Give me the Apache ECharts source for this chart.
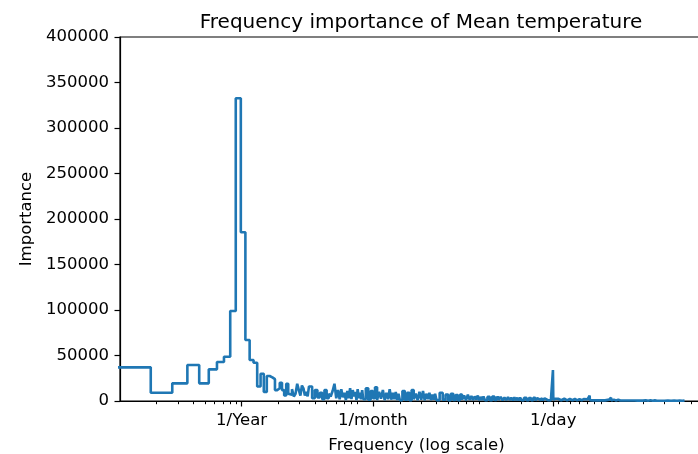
<!DOCTYPE html>
<html>
<head>
<meta charset="utf-8">
<script src="https://cdn.jsdelivr.net/npm/echarts@6/dist/echarts.min.js"></script>
<style>html,body{margin:0;padding:0;background:#fff;}#c{width:698px;height:454px;}</style>
</head>
<body>
<div id="c"></div>
<script>
// Frequency in cycles per year (log axis), importance = |FFT|
const lowFreq = [0.0895,0.179,0.269,0.358,0.448,0.537,0.627,0.716,0.806,0.895,0.985,1.074,1.164,1.253,1.343,
  1.432,1.522,1.611,1.701,1.790,1.880,1.969,2.059,2.148,2.238,2.327,2.417,2.506,2.596,2.686,2.775,2.865,2.954,3.044,3.133,3.223,3.312,3.402,3.491,3.581];
const lowVal = [37000,37000,9100,19400,39600,19400,34800,42800,48700,98900,332700,185400,67000,45000,42100,
  16000,30000,10000,27500,26000,24000,12000,14000,20000,12000,6000,19000,8000,7000,13000,5000,8000,19000,12000,6000,17000,14000,6000,10000,5000];

const midFreq = [3.8,4.0,4.2,4.4,4.6,4.8,5.0,5.2,5.4,5.6,5.8,6.0,6.2,6.4,6.6,6.8,7.0,7.2,7.4,7.6,7.8,8.0,8.2,8.4,8.6,8.8,9.0,9.2,9.4,9.6,9.8,10.0,
  10.5,11,11.5,12,12.5,13,13.5,14,14.5,15,15.5,16,16.5,17,17.5,18,18.5,19,19.5,20,
  21,22,23,24,25,26,27,28,29,30,31,32,33,34,35,36,37,38,39,40];
const midVal = [16000,3000,12000,4000,9000,2000,12000,3000,8000,5000,11000,19000,3000,12000,2000,13000,4000,9000,1000,11000,3000,14000,2000,12000,5000,10000,1000,13000,3000,9000,2000,12000,
  2000,14000,1500,11000,3000,15000,1000,10000,2500,12000,1000,9000,2000,13000,1500,9000,2000,10000,1000,8000,
  1000,11000,1500,9000,800,12000,2000,8000,1000,10000,1500,11000,800,8000,2000,9000,1000,7000,1500,8000];

const highFreq = [42.5,45,47.5,50,52.5,55,57.5,60,62.5,65,67.5,70,72.5,75,77.5,80,82.5,85,87.5,90,92.5,95,97.5,100,
  105,110,115,120,125,130,135,140,145,150,155,160,165,170,175,180,185,190,195,200,
  210,220,230,240,250,260,270,280,290,300,310,320,330,340,350,360,363,365.5,368,380,390,400];
const highVal = [1000,9000,1500,7000,800,8000,1200,6500,1000,7000,1500,6000,800,7000,1200,5500,1000,5000,1500,6000,800,4500,1200,5000,
  1000,4500,800,5000,1200,4000,1000,4500,800,3800,1000,4200,1200,3500,800,4000,1000,3500,800,3800,
  1000,3500,800,3200,1000,3400,800,3000,1000,3200,800,3000,1000,2800,800,3000,1200,34000,1500,2500,800,2500];

const topFreq = [425,450,475,500,525,550,575,600,625,650,675,700,727,731,735,750,775,800,825,850,875,900,925,950,975,1000,
  1050,1090,1097,1105,1150,1200,1250,1300,1350,1400,1450,1500,1550,1600,1650,1700,1750,1800,1850,1900,1950,2000,
  2100,2200,2300,2400,2500,2600,2700,2800,2900,3000,3200,3400,3600,3800,4000,4200,4383];
const topVal = [800,2500,700,2300,800,2200,700,2000,800,2200,700,2000,800,6000,800,2000,700,1800,800,1800,700,1700,800,1800,700,1600,
  1500,600,3800,600,1500,600,1400,500,1300,500,1300,500,1200,500,1200,500,1200,400,1100,400,1100,400,
  900,300,800,300,700,300,700,300,600,300,600,300,600,300,500,300,400];

const majorTicks = [1, 12, 365.2524];
const majorLabels = ['1/Year', '1/month', '1/day'];
const minorTicks = [0.2,0.3,0.4,0.5,0.6,0.7,0.8,0.9,2,3,4,5,6,7,8,9,20,30,40,50,60,70,80,90,200,300,400,500,600,700,800,900,2000,3000,4000,5000,6000,7000];

const freqs = lowFreq.concat(midFreq, highFreq, topFreq);
const vals = lowVal.concat(midVal, highVal, topVal);
const seriesData = freqs.map((f, i) => [f, vals[i]]);

const FONT = 'DejaVu Sans';
const XMIN = 0.1, XMAX = 7516;
const chart = echarts.init(document.getElementById('c'), null, {renderer: 'canvas'});
chart.setOption({
  animation: false,
  backgroundColor: '#fff',
  title: {
    text: 'Frequency importance of Mean temperature',
    left: 416, top: 8, textAlign: 'center',
    textStyle: {fontFamily: FONT, fontSize: 20, fontWeight: 'normal', color: '#000'}
  },
  grid: {left: 120, right: -15, top: 37, bottom: 53, containLabel: false, outerBoundsMode: 'none',
    show: true, borderColor: '#000', borderWidth: 1.2, backgroundColor: 'transparent'},
  xAxis: [{
    type: 'log', logBase: 10, min: XMIN, max: XMAX, position: 'bottom',
    axisLine: {show: true, lineStyle: {color: '#000', width: 1.2}},
    axisTick: {show: true, customValues: majorTicks, length: 5.5, lineStyle: {color: '#000', width: 1.2}},
    axisLabel: {show: true, customValues: majorTicks, margin: 11, color: '#000', fontFamily: FONT, fontSize: 16.5,
      formatter: function (v) { return v < 5 ? majorLabels[0] : (v < 100 ? majorLabels[1] : majorLabels[2]); }},
    splitLine: {show: false}, minorTick: {show: false},
    name: 'Frequency (log scale)', nameLocation: 'middle', nameGap: 36,
    nameTextStyle: {fontFamily: FONT, fontSize: 16.5, color: '#000'}
  }, {
    type: 'log', logBase: 10, min: XMIN, max: XMAX, position: 'bottom', offset: 0,
    axisLine: {show: false},
    axisTick: {show: true, customValues: minorTicks, length: 3.2, lineStyle: {color: '#000', width: 1}},
    axisLabel: {show: false}, splitLine: {show: false}
  }],
  yAxis: {
    type: 'value', min: 0, max: 400000, interval: 50000,
    axisLine: {show: true, lineStyle: {color: '#000', width: 1.2}},
    axisTick: {show: true, length: 5.5, lineStyle: {color: '#000', width: 1.2}},
    axisLabel: {margin: 11, color: '#000', fontFamily: FONT, fontSize: 16.5, formatter: function (v) { return String(v); }},
    splitLine: {show: false},
    name: 'Importance', nameLocation: 'middle', nameGap: 73, nameRotate: 90,
    nameTextStyle: {fontFamily: FONT, fontSize: 16.5, color: '#000'}
  },
  series: [{
    type: 'line', xAxisIndex: 0, yAxisIndex: 0, step: 'start', data: seriesData,
    showSymbol: false, symbol: 'none', clip: true,
    lineStyle: {color: '#1f77b4', width: 2.6}
  }]
});
</script>
</body>
</html>
